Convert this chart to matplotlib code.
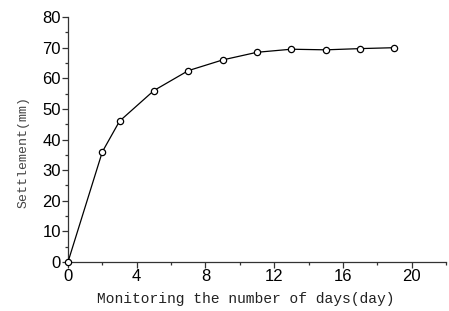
import matplotlib
matplotlib.use("Agg")
import matplotlib.pyplot as plt
from matplotlib.ticker import MultipleLocator

days = [0, 2, 3, 5, 7, 9, 11, 13, 15, 17, 19]
settlement = [0, 36, 46, 56, 62.5, 66, 68.5, 69.5, 69.3, 69.7, 70]
xticks = [0, 4, 8, 12, 16, 20]
yticks = [0, 10, 20, 30, 40, 50, 60, 70, 80]

fig = plt.figure(figsize=(4.49, 3.11), dpi=100)
ax = fig.add_axes([0.1514, 0.1576, 0.842, 0.7875])
ax.plot(days, settlement, color="black", lw=0.9, marker="o", ms=4.5,
        mfc="white", mec="black", mew=0.9, clip_on=False, zorder=3)
ax.set_xlim(0, 22)
ax.set_ylim(0, 80)
ax.set_xticks(xticks)
ax.set_yticks(yticks)
ax.xaxis.set_minor_locator(MultipleLocator(2))
ax.yaxis.set_minor_locator(MultipleLocator(5))
for s in ["top", "right"]:
    ax.spines[s].set_visible(False)
for s in ["left", "bottom"]:
    ax.spines[s].set_color("#333333")
    ax.spines[s].set_linewidth(0.9)
ax.tick_params(which="major", direction="out", length=4, width=0.9, colors="#333333",
               labelsize=12, labelcolor="black", pad=1)
ax.tick_params(which="minor", direction="out", length=2.5, width=0.9, colors="#333333")
for lab in ax.get_xticklabels() + ax.get_yticklabels():
    lab.set_family("Liberation Sans")
ax.set_xlabel("Monitoring the number of days(day)", family="Liberation Mono",
              fontsize=10.5, labelpad=4, color="#222222")
ax.xaxis.set_label_coords(0.471, -0.123)
ax.set_ylabel("Settlement(mm)", family="Liberation Mono", fontsize=9.5, color="#444444")
ax.yaxis.set_label_coords(-0.102, 0.449)
fig.savefig("out.png", dpi=100)
